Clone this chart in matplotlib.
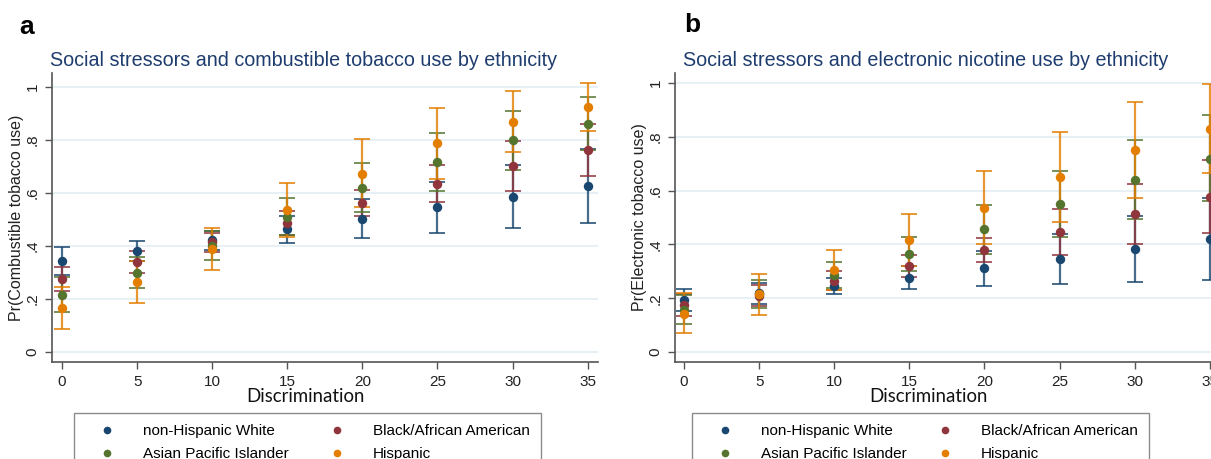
#!/usr/bin/env python3

from matplotlib.lines import Line2D
from matplotlib.pyplot import close, figure, savefig
from numpy import array

DISCRIMINATION = [0, 5, 10, 15, 20, 25, 30, 35]
GROUPS = [
    "non-Hispanic White",
    "Black/African American",
    "Asian Pacific Islander",
    "Hispanic",
]
COLORS = ["#1a476f", "#90353b", "#55752f", "#e37e00"]

# panel a: combustible tobacco
COMB_WHITE = [0.344, 0.383, 0.421, 0.463, 0.503, 0.546, 0.586, 0.625]
COMB_WHITE_LO = [0.291, 0.345, 0.385, 0.411, 0.430, 0.449, 0.467, 0.486]
COMB_WHITE_HI = [0.398, 0.420, 0.457, 0.515, 0.576, 0.643, 0.705, 0.764]
COMB_BLACK = [0.276, 0.340, 0.414, 0.486, 0.563, 0.635, 0.701, 0.762]
COMB_BLACK_LO = [0.230, 0.300, 0.379, 0.441, 0.513, 0.565, 0.608, 0.663]
COMB_BLACK_HI = [0.322, 0.380, 0.449, 0.531, 0.613, 0.705, 0.794, 0.861]
COMB_ASIAN = [0.216, 0.300, 0.401, 0.511, 0.619, 0.718, 0.798, 0.861]
COMB_ASIAN_LO = [0.150, 0.243, 0.347, 0.442, 0.527, 0.608, 0.688, 0.760]
COMB_ASIAN_HI = [0.282, 0.357, 0.455, 0.580, 0.711, 0.826, 0.908, 0.962]
COMB_HISP = [0.165, 0.263, 0.389, 0.535, 0.672, 0.787, 0.868, 0.923]
COMB_HISP_LO = [0.087, 0.184, 0.310, 0.433, 0.548, 0.654, 0.753, 0.833]
COMB_HISP_HI = [0.247, 0.342, 0.469, 0.637, 0.802, 0.921, 0.985, 1.013]

# panel b: electronic nicotine
ELEC_WHITE = [0.193, 0.218, 0.245, 0.277, 0.311, 0.345, 0.383, 0.421]
ELEC_WHITE_LO = [0.151, 0.178, 0.215, 0.235, 0.245, 0.253, 0.261, 0.268]
ELEC_WHITE_HI = [0.235, 0.258, 0.275, 0.319, 0.377, 0.437, 0.505, 0.574]
ELEC_BLACK = [0.174, 0.210, 0.265, 0.320, 0.380, 0.445, 0.512, 0.578]
ELEC_BLACK_LO = [0.134, 0.170, 0.230, 0.280, 0.335, 0.360, 0.401, 0.442]
ELEC_BLACK_HI = [0.214, 0.250, 0.300, 0.360, 0.425, 0.530, 0.623, 0.714]
ELEC_ASIAN = [0.158, 0.217, 0.286, 0.366, 0.456, 0.549, 0.638, 0.719]
ELEC_ASIAN_LO = [0.103, 0.165, 0.239, 0.303, 0.365, 0.429, 0.493, 0.560]
ELEC_ASIAN_HI = [0.213, 0.269, 0.333, 0.429, 0.547, 0.673, 0.788, 0.881]
ELEC_HISP = [0.143, 0.214, 0.304, 0.416, 0.534, 0.650, 0.750, 0.830]
ELEC_HISP_LO = [0.069, 0.139, 0.229, 0.320, 0.400, 0.482, 0.574, 0.665]
ELEC_HISP_HI = [0.218, 0.289, 0.379, 0.512, 0.671, 0.817, 0.928, 0.996]

W, H = 1211, 459
FONT = ["Liberation Sans", "DejaVu Sans"]
TITLE_COLOR = "#1e3d6e"
GRID_COLOR = "#e3eef2"
AXIS_COLOR = "#555555"


def px(x0, y0, x1, y1):
    # pixel box -> figure fraction [left, bottom, width, height]
    return [x0 / W, 1 - y1 / H, (x1 - x0) / W, (y1 - y0) / H]


def draw_panel(ax, series, title, title_x, ylabel, ylim, xlim):
    for (mean, lo, hi), color in zip(series, COLORS):
        mean = array(mean)
        err = array([mean - array(lo), array(hi) - mean])
        ax.errorbar(
            DISCRIMINATION, mean, yerr=err,
            fmt="none", ecolor=color, elinewidth=1.6, capsize=5.5,
            capthick=1.4, alpha=0.8, zorder=2,
        )
        ax.plot(
            DISCRIMINATION, mean, "o", color=color, markersize=6.8,
            markeredgewidth=0, zorder=3,
        )
    ax.set_xlim(xlim)
    ax.set_ylim(ylim)
    ax.set_xticks(DISCRIMINATION)
    ax.set_yticks([0, 0.2, 0.4, 0.6, 0.8, 1.0])
    ax.set_yticklabels(["0", ".2", ".4", ".6", ".8", "1"],
                       rotation=90, va="center")
    ax.tick_params(labelsize=11, colors="#222222", length=5,
                   width=1, pad=4)
    ax.tick_params(axis="both", color=AXIS_COLOR)
    for tl in ax.get_xticklabels() + ax.get_yticklabels():
        tl.set_family(FONT)
    ax.grid(axis="y", color=GRID_COLOR, lw=1.2, zorder=0)
    ax.set_axisbelow(True)
    for edge in ["top", "right"]:
        ax.spines[edge].set_visible(False)
    for edge in ["left", "bottom"]:
        ax.spines[edge].set_color(AXIS_COLOR)
        ax.spines[edge].set_linewidth(1.2)
    ax.set_ylabel(ylabel, fontsize=11.5, family=FONT, color="#222222",
                  labelpad=1)
    ax.set_xlabel("Discrimination", fontsize=13.4, family=["Lato"],
                  color="#111111", labelpad=0)
    ax.xaxis.set_label_coords(0.465, -0.09)
    ax.set_title(title, loc="left", fontsize=14.2, family=FONT,
                 color=TITLE_COLOR, pad=5, x=title_x)


def add_legend(fig, x0, y0, width):
    handles = [
        Line2D([], [], ls="none", marker="o", markersize=5.5,
               markeredgewidth=0, color=c)
        for c in COLORS
    ]
    order = [0, 2, 1, 3]
    leg = fig.legend(
        [handles[i] for i in order],
        [GROUPS[i] for i in order],
        loc="upper left",
        bbox_to_anchor=(x0 / W, 0, width / W, 1 - y0 / H),
        mode="expand",
        ncol=2,
        frameon=True,
        fancybox=False,
        edgecolor="#6e6e6e",
        prop={"family": FONT, "size": 11},
        handletextpad=0.96,
        borderpad=0.75,
        labelspacing=0.55,
        handlelength=2.8,
        borderaxespad=0,
    )
    leg.get_frame().set_linewidth(1.0)


def main():
    fig = figure(figsize=(W / 100, H / 100), dpi=100)
    fig.patch.set_facecolor("white")

    ax_a = fig.add_axes(px(52, 73, 598, 362))
    draw_panel(
        ax_a,
        [
            (COMB_WHITE, COMB_WHITE_LO, COMB_WHITE_HI),
            (COMB_BLACK, COMB_BLACK_LO, COMB_BLACK_HI),
            (COMB_ASIAN, COMB_ASIAN_LO, COMB_ASIAN_HI),
            (COMB_HISP, COMB_HISP_LO, COMB_HISP_HI),
        ],
        "Social stressors and combustible tobacco use by ethnicity",
        -2 / 546,
        "Pr(Combustible tobacco use)",
        (-0.037, 1.052),
        (-0.67, 35.69),
    )

    ax_b = fig.add_axes(px(675, 73, 1221, 362))
    draw_panel(
        ax_b,
        [
            (ELEC_WHITE, ELEC_WHITE_LO, ELEC_WHITE_HI),
            (ELEC_BLACK, ELEC_BLACK_LO, ELEC_BLACK_HI),
            (ELEC_ASIAN, ELEC_ASIAN_LO, ELEC_ASIAN_HI),
            (ELEC_HISP, ELEC_HISP_LO, ELEC_HISP_HI),
        ],
        "Social stressors and electronic nicotine use by ethnicity",
        8 / 546,
        "Pr(Electronic tobacco use)",
        (-0.037, 1.037),
        (-0.6, 35.75),
    )

    fig.text(19 / W, 1 - 27 / H, "a", fontsize=19, fontweight="bold",
             family=FONT, va="center")
    fig.text(684 / W, 1 - 25 / H, "b", fontsize=19, fontweight="bold",
             family=FONT, va="center")

    add_legend(fig, 74, 413, 467)
    add_legend(fig, 692, 413, 457)

    savefig("out.png", dpi=100)
    close()


if __name__ == "__main__":
    main()
